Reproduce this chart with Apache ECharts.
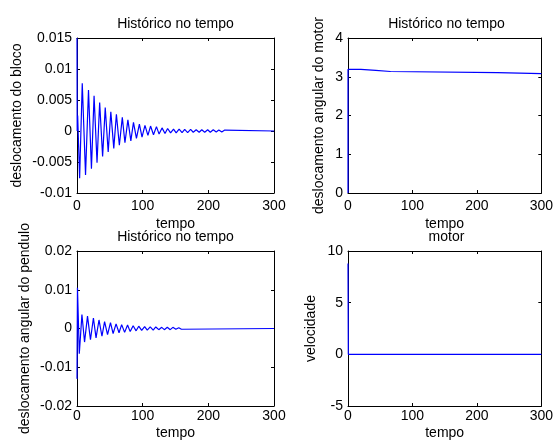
<!DOCTYPE html>
<html>
<head>
<meta charset="utf-8">
<script src="https://cdn.jsdelivr.net/npm/echarts@6/dist/echarts.min.js"></script>
<style>
  html, body { margin: 0; padding: 0; background: #ffffff; }
  #grafico { width: 556px; height: 442px; }
</style>
</head>
<body>
<div id="grafico"></div>
<script>
// Deslocamento do bloco: picos e vales da resposta [tempo, valor]
const blocoPontos = [
  [0, 0.015], [0.3, 0], [1, 0.0025], [4, -0.0076], [8, 0.0077], [13, -0.0071],
  [17.5, 0.0066], [22, -0.0061], [26, 0.0057], [30.5, -0.0051], [34.5, 0.0046],
  [39, -0.0041], [43, 0.0038], [47.5, -0.0034], [51.5, 0.0031], [56, -0.0028],
  [60, 0.0027], [64.5, -0.0023], [69, 0.0022], [73, -0.0019], [77.5, 0.0018],
  [82, -0.0016], [86, 0.0014], [90.5, -0.0012], [95, 0.0011], [99, -0.0010],
  [103.5, 0.0009], [108, -0.0007], [112, 0.0008], [116.5, -0.0006], [121, 0.0007],
  [125, -0.0005], [129.5, 0.0005], [134, -0.0004], [138, 0.0004], [142.5, -0.0003],
  [147, 0.0003], [151, -0.0003], [155.5, 0.0003], [160, -0.00025], [164, 0.00025],
  [168.5, -0.00025], [173, 0.00025], [177, -0.0002], [181.5, 0.0002], [186, -0.0002],
  [190, 0.0002], [194.5, -0.0002], [199, 0.0002], [203, -0.0002], [207.5, 0.0002],
  [212, -0.00015], [216, 0.00015], [220.5, -0.00015], [225, 0.00015], [228, 0], [300, 0]
];

// Deslocamento angular do motor (patamares)
const motorPontos = [
  [0, 0], [0, 3.19], [20, 3.19], [20.5, 3.165], [43, 3.165], [43.5, 3.135],
  [66, 3.135], [66.5, 3.105], [232, 3.105], [232.5, 3.08], [300, 3.08]
];

// Deslocamento angular do pêndulo [tempo, valor]
const penduloPontos = [
  [0, -0.013], [0.7, 0.0105], [3.5, -0.0065], [7.5, 0.0036], [11.5, -0.0035],
  [16, 0.0032], [20.5, -0.0029], [25, 0.0027], [29, -0.0024], [33.5, 0.0022],
  [38, -0.0020], [42, 0.0018], [46.5, -0.0016], [51, 0.0015], [55, -0.0013],
  [59.5, 0.0012], [64, -0.0011], [68, 0.0010], [72.5, -0.0010], [77, 0.0009],
  [81, -0.0008], [85.5, 0.0007], [90, -0.0006], [94, 0.0006], [98.5, -0.0005],
  [103, 0.0005], [107, -0.0004], [111.5, 0.0004], [116, -0.0004], [120, 0.0004],
  [124.5, -0.0003], [129, 0.0003], [133, -0.0003], [137.5, 0.0003], [142, -0.0003],
  [146, 0.0003], [150.5, -0.0002], [155, 0.0002], [159, -0.0002], [161, 0], [300, 0]
];

// Velocidade do motor
const velocidadePontos = [[0, 8.8], [0.5, 0], [300, 0]];

// Escalas dos eixos
const tempoEscala = { min: 0, max: 300, interval: 100 };
const blocoEscala = { min: -0.01, max: 0.015, interval: 0.005 };
const motorEscala = { min: 0, max: 4, interval: 1 };
const penduloEscala = { min: -0.02, max: 0.02, interval: 0.01 };
const velocidadeEscala = { min: -5, max: 10, interval: 5 };

const titulos = ['Histórico no tempo', 'Histórico no tempo', 'Histórico no tempo', 'motor'];
const nomesY = ['deslocamento do bloco', 'deslocamento angular do motor',
                'deslocamento angular do pendulo', 'velocidade'];
const nomeX = 'tempo';

const FONTE = '"Liberation Sans", Arial, Helvetica, sans-serif';
const TAM = 14;

const paineis = [
  { dados: blocoPontos, escala: blocoEscala, left: 77, top: 38, gapY: 53, gapX: 24, marg: 6 },
  { dados: motorPontos, escala: motorEscala, left: 348, top: 38, gapY: 22, gapX: 24, marg: 6 },
  { dados: penduloPontos, escala: penduloEscala, left: 77, top: 251, gapY: 45, gapX: 20, marg: 3 },
  { dados: velocidadePontos, escala: velocidadeEscala, left: 348, top: 251, gapY: 30, gapX: 20, marg: 3 }
];
const LARG = 197, ALT = 155;

const fmt = v => String(parseFloat(Number(v).toFixed(6)));
const texto = { color: '#000', fontFamily: FONTE, fontSize: TAM };
const tick = { show: true, inside: true, length: 3, lineStyle: { color: '#000', width: 1 } };
const linhaEixo = { show: true, onZero: false, lineStyle: { color: '#000', width: 1 } };

const grid = [], xAxis = [], yAxis = [], series = [], title = [];

paineis.forEach((p, i) => {
  grid.push({ left: p.left, top: p.top, width: LARG, height: ALT, containLabel: false });
  title.push({
    text: titulos[i], left: p.left + LARG / 2, top: p.top - 21, textAlign: 'center',
    padding: 0, textStyle: Object.assign({ fontWeight: 'normal' }, texto)
  });
});

// eixos inferiores / esquerdos com rótulos
paineis.forEach((p, i) => {
  xAxis.push(Object.assign({
    type: 'value', gridIndex: i, position: 'bottom',
    name: nomeX, nameLocation: 'middle', nameGap: p.gapX, nameTextStyle: texto,
    axisLine: linhaEixo, axisTick: tick, splitLine: { show: false },
    axisLabel: Object.assign({ margin: p.marg, formatter: fmt }, texto)
  }, tempoEscala));
  yAxis.push(Object.assign({
    type: 'value', gridIndex: i, position: 'left',
    name: nomesY[i], nameLocation: 'middle', nameGap: p.gapY, nameTextStyle: texto,
    axisLine: linhaEixo, axisTick: tick, splitLine: { show: false },
    axisLabel: Object.assign({ margin: 5, formatter: fmt }, texto)
  }, p.escala));
});
// eixos superiores / direitos (caixa com marcas)
paineis.forEach((p, i) => {
  xAxis.push(Object.assign({
    type: 'value', gridIndex: i, position: 'top',
    axisLine: linhaEixo, axisTick: tick, splitLine: { show: false },
    axisLabel: { show: false }
  }, tempoEscala));
  yAxis.push(Object.assign({
    type: 'value', gridIndex: i, position: 'right',
    axisLine: linhaEixo, axisTick: tick, splitLine: { show: false },
    axisLabel: { show: false }
  }, p.escala));
});

paineis.forEach((p, i) => {
  series.push({
    type: 'line', xAxisIndex: i, yAxisIndex: i, data: p.dados,
    showSymbol: false, clip: false, z: 5,
    lineStyle: { color: '#0000ff', width: 1.2 }
  });
});

const grafico = echarts.init(document.getElementById('grafico'), null, { renderer: 'canvas' });
grafico.setOption({
  backgroundColor: '#ffffff',
  animation: false,
  title, grid, xAxis, yAxis, series
});
</script>
</body>
</html>
